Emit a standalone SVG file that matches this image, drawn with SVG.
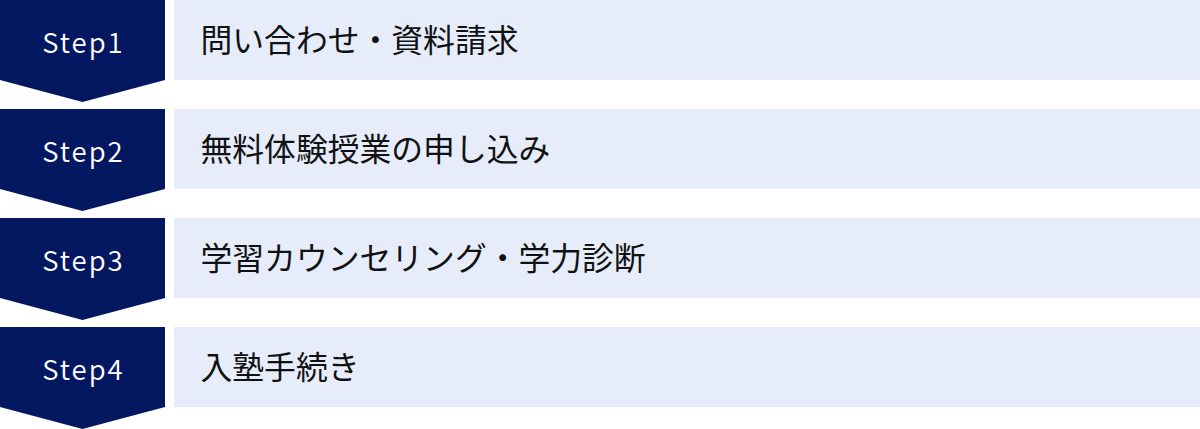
<svg xmlns="http://www.w3.org/2000/svg" width="1200" height="429" viewBox="0 0 1200 429">
<style>
.badge{fill:#041862}
.panel{fill:#E6ECF9}
.step{font-family:"Noto Sans CJK JP","Noto Sans",sans-serif;font-size:27.5px;font-weight:350;fill:#ffffff;letter-spacing:2px;text-anchor:middle}
.label{font-family:"Noto Sans CJK JP","Noto Sans",sans-serif;font-size:31.8px;fill:#111111}
</style>
<rect width="1200" height="429" fill="#ffffff"/>
<g id="step1">
<polygon class="badge" points="0,0 165,0 165,80 82.5,102 0,80"/>
<rect class="panel" x="174" y="0" width="1026" height="80"/>
<text class="step" x="83.5" y="52.5">Step1</text>
<text class="label" x="200.5" y="51.5">問い合わせ・資料請求</text>
</g>
<g id="step2">
<polygon class="badge" points="0,109 165,109 165,189 82.5,211 0,189"/>
<rect class="panel" x="174" y="109" width="1026" height="80"/>
<text class="step" x="83.5" y="161.5">Step2</text>
<text class="label" x="200.5" y="160.5">無料体験授業の申し込み</text>
</g>
<g id="step3">
<polygon class="badge" points="0,218 165,218 165,298 82.5,320 0,298"/>
<rect class="panel" x="174" y="218" width="1026" height="80"/>
<text class="step" x="83.5" y="270.5">Step3</text>
<text class="label" x="200.5" y="269.5">学習カウンセリング・学力診断</text>
</g>
<g id="step4">
<polygon class="badge" points="0,327 165,327 165,407 82.5,429 0,407"/>
<rect class="panel" x="174" y="327" width="1026" height="80"/>
<text class="step" x="83.5" y="379.5">Step4</text>
<text class="label" x="200.5" y="378.5">入塾手続き</text>
</g>
<g id="connectors"></g>
</svg>
